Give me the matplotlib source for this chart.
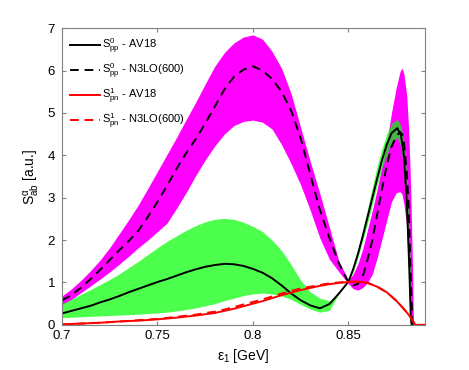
import numpy as np
import matplotlib
matplotlib.use('Agg')
import matplotlib.pyplot as plt

plt.rcParams['font.family'] = ['Liberation Sans', 'DejaVu Sans']
plt.rcParams['mathtext.fontset'] = 'custom'
plt.rcParams['mathtext.rm'] = 'Liberation Sans'
plt.rcParams['mathtext.default'] = 'regular'

# magenta band + dashed black: S^0_pp N3LO(600)
x_m = [0.700, 0.705, 0.710, 0.715, 0.720, 0.725, 0.730, 0.735, 0.740, 0.745,
       0.750, 0.755, 0.760, 0.765, 0.770, 0.775, 0.780, 0.785, 0.790, 0.795,
       0.800, 0.805, 0.810, 0.815, 0.820, 0.825, 0.830, 0.835, 0.840, 0.845,
       0.850, 0.8525, 0.855, 0.8575, 0.860, 0.8625, 0.865, 0.8675, 0.870, 0.8725,
       0.875, 0.877, 0.878, 0.879, 0.8805, 0.8815, 0.8825, 0.8835, 0.884]
m_upper = [0.68, 0.85, 1.05, 1.28, 1.53, 1.82, 2.15, 2.48, 2.83, 3.22,
           3.62, 4.02, 4.42, 4.84, 5.25, 5.68, 6.10, 6.42, 6.65, 6.79,
           6.84, 6.74, 6.45, 6.05, 5.45, 4.65, 3.85, 3.10, 2.30, 1.50,
           1.05, 1.20, 1.45, 1.80, 2.25, 2.70, 3.20, 3.75, 4.30, 5.00,
           5.60, 5.98, 6.06, 5.92, 5.40, 4.60, 3.30, 1.40, 0.0]
m_lower = [0.48, 0.60, 0.76, 0.92, 1.08, 1.25, 1.43, 1.62, 1.82, 2.00,
           2.20, 2.40, 2.75, 3.12, 3.52, 3.89, 4.22, 4.50, 4.70, 4.80,
           4.83, 4.78, 4.62, 4.25, 3.80, 3.30, 2.70, 2.05, 1.55, 1.25,
           0.97, 0.85, 0.82, 0.88, 1.00, 1.20, 1.58, 2.02, 2.47, 2.90,
           3.12, 3.14, 3.08, 2.85, 2.30, 1.20, 0.0, 0.0, 0.0]
n3lo_pp = [0.58, 0.70, 0.88, 1.08, 1.30, 1.53, 1.76, 1.98, 2.22, 2.55,
           2.90, 3.28, 3.68, 4.05, 4.38, 4.75, 5.15, 5.55, 5.85, 6.02,
           6.10, 6.00, 5.80, 5.50, 5.05, 4.40, 3.55, 2.72, 2.05, 1.45,
           1.00, 0.93, 0.97, 1.15, 1.55, 2.00, 2.60, 3.20, 3.75, 4.20,
           4.45, 4.55, 4.50, 4.30, 3.60, 2.80, 1.20, 0.0, 0.0]

# green band + solid black: S^0_pp AV18
x_g = [0.700, 0.705, 0.710, 0.715, 0.720, 0.725, 0.730, 0.735, 0.740, 0.745,
       0.750, 0.755, 0.760, 0.765, 0.770, 0.775, 0.780, 0.785, 0.790, 0.795,
       0.800, 0.805, 0.810, 0.815, 0.820, 0.825, 0.830, 0.835, 0.840, 0.845,
       0.850, 0.8525, 0.855, 0.8575, 0.860, 0.8625, 0.865, 0.8675, 0.870, 0.8725,
       0.8755, 0.8775, 0.879, 0.8805, 0.8818, 0.8826, 0.883]
g_upper = [0.50, 0.60, 0.72, 0.83, 0.95, 1.07, 1.20, 1.35, 1.50, 1.66,
           1.82, 1.97, 2.10, 2.23, 2.34, 2.43, 2.49, 2.51, 2.49, 2.42,
           2.32, 2.20, 2.00, 1.75, 1.42, 1.05, 0.78, 0.63, 0.57, 0.74,
           1.02, 1.40, 1.80, 2.25, 2.75, 3.25, 3.75, 4.15, 4.50, 4.75,
           4.85, 4.70, 4.30, 3.50, 2.30, 1.00, 0.0]
g_lower = [0.17, 0.18, 0.19, 0.20, 0.21, 0.22, 0.23, 0.24, 0.25, 0.27,
           0.28, 0.30, 0.33, 0.36, 0.40, 0.45, 0.50, 0.57, 0.63, 0.69,
           0.73, 0.75, 0.73, 0.68, 0.60, 0.48, 0.37, 0.30, 0.34, 0.74,
           1.02, 1.25, 1.60, 2.00, 2.40, 2.85, 3.30, 3.70, 4.00, 4.30,
           4.42, 4.20, 3.60, 2.30, 0.60, 0.0, 0.0]
av18_pp = [0.27, 0.33, 0.39, 0.45, 0.53, 0.60, 0.68, 0.77, 0.85, 0.93,
           1.01, 1.08, 1.16, 1.24, 1.31, 1.37, 1.41, 1.44, 1.43, 1.39,
           1.32, 1.23, 1.10, 0.93, 0.74, 0.58, 0.46, 0.39, 0.49, 0.74,
           1.02, 1.32, 1.68, 2.10, 2.55, 3.00, 3.45, 3.88, 4.25, 4.52,
           4.64, 4.47, 4.00, 2.95, 1.37, 0.20, 0.0]

# red: S^1_pn
x_r = [0.70, 0.71, 0.72, 0.73, 0.74, 0.75, 0.76, 0.77, 0.775, 0.78,
       0.785, 0.79, 0.795, 0.80, 0.805, 0.81, 0.815, 0.82, 0.825, 0.83,
       0.835, 0.84, 0.845, 0.85, 0.855, 0.86, 0.865, 0.87, 0.875, 0.8775,
       0.88, 0.8825, 0.884, 0.885, 0.89]
av18_pn = [0.01, 0.03, 0.05, 0.08, 0.10, 0.13, 0.17, 0.22, 0.25, 0.28,
           0.33, 0.38, 0.44, 0.50, 0.56, 0.63, 0.70, 0.76, 0.82, 0.87,
           0.92, 0.96, 0.99, 1.01, 1.02, 0.99, 0.90, 0.77, 0.57, 0.45,
           0.32, 0.18, 0.07, 0.0, 0.0]
n3lo_pn = [0.01, 0.03, 0.05, 0.08, 0.11, 0.14, 0.19, 0.24, 0.28, 0.31,
           0.36, 0.42, 0.48, 0.54, 0.60, 0.67, 0.74, 0.80, 0.86, 0.90,
           0.94, 0.98, 1.00, 1.02, 1.02, 0.99, 0.90, 0.77, 0.57, 0.45,
           0.32, 0.18, 0.07, 0.0, 0.0]

fig = plt.figure(figsize=(4.69, 3.70), dpi=100)
ax = fig.add_axes([0.132, 0.122, 0.774, 0.802])

ax.fill_between(x_m, m_lower, m_upper, color='#ff00ff', lw=0)
ax.fill_between(x_g, g_lower, g_upper, color='#00ff00', alpha=0.7, lw=0)

ax.plot(x_g, av18_pp, color='k', lw=1.4, label=r'$S^{0}_{pp}$ - AV18')
ax.plot(x_m, n3lo_pp, color='k', lw=1.4, ls=(0, (4.5, 3)), label=r'$S^{0}_{pp}$ - N3LO(600)')
ax.plot(x_r, av18_pn, color='r', lw=1.4, label=r'$S^{1}_{pn}$ - AV18')
ax.plot(x_r, n3lo_pn, color='r', lw=1.4, ls=(0, (4.5, 3)), label=r'$S^{1}_{pn}$ - N3LO(600)')

ax.set_xlim(0.7, 0.89)
ax.set_ylim(0, 7)
ax.set_xticks([0.7, 0.75, 0.8, 0.85])
ax.set_xticklabels(['0.7', '0.75', '0.8', '0.85'])
ax.set_yticks(range(8))
ax.tick_params(direction='in', length=3, top=True, right=True, labelsize=9.5, color='#808080')
ax.tick_params(axis='y', pad=5)
for s in ax.spines.values():
    s.set_color('#808080')

ax.set_xlabel(r'$\varepsilon_1$ [GeV]', fontsize=10)
ax.set_ylabel(r'$S^{\alpha}_{ab}$ [a.u.]', fontsize=10)

leg = ax.legend(loc='upper left', frameon=False, fontsize=8, handlelength=2.7,
                borderaxespad=0.35, labelspacing=0.5, handletextpad=0.2)

fig.savefig('out.png', dpi=100)
